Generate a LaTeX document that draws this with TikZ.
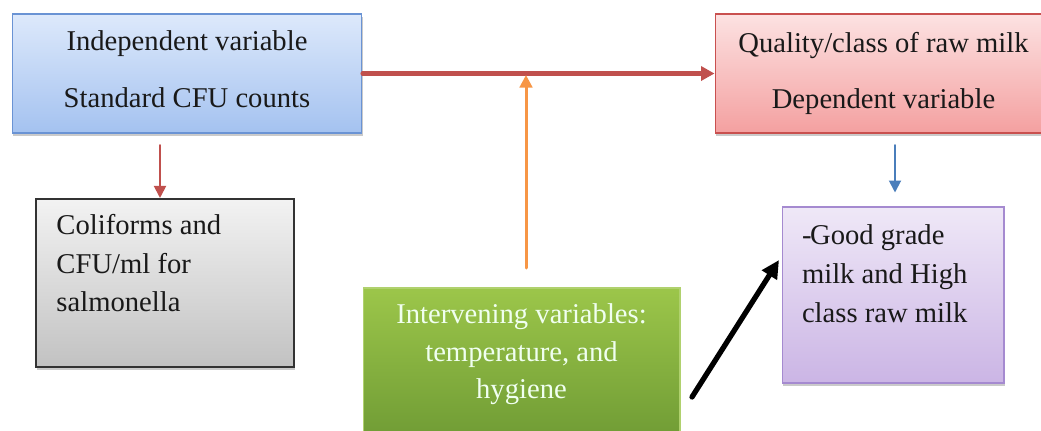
\documentclass[tikz,border=0pt]{standalone}
\usepackage{fontspec}
\setmainfont{Liberation Serif}
\usetikzlibrary{arrows.meta, positioning, shadows}

\definecolor{indepline}{HTML}{6A93D4}
\definecolor{indeptop}{HTML}{DDE9FB}
\definecolor{indepbottom}{HTML}{A4C2F0}
\definecolor{depline}{HTML}{C9504F}
\definecolor{deptop}{HTML}{FCE2E2}
\definecolor{depbottom}{HTML}{F4A0A0}
\definecolor{intertop}{HTML}{9CC64A}
\definecolor{interbottom}{HTML}{6E9A34}
\definecolor{gradeline}{HTML}{A58AD0}
\definecolor{gradetop}{HTML}{EFE8F7}
\definecolor{gradebottom}{HTML}{CBB5E5}
\definecolor{redarrow}{HTML}{C0504D}
\definecolor{orangearrow}{HTML}{F79646}
\definecolor{bluearrow}{HTML}{4A7EBB}

\begin{document}
\begin{tikzpicture}[
            x = 0.02cm, y = -0.02cm, % one unit = one pixel, y grows downwards
            > = Triangle, % arrow head style
            font = \fontsize{16.3}{22}\selectfont,
            semithick % line style
        ]

        \tikzstyle{box}=[
            rectangle,
            draw,
            inner sep = 0pt,
            drop shadow = {shadow xshift = 0.4pt, shadow yshift = -1.6pt,
                opacity = 0.35, fill = black!60}
        ]
        \tikzstyle{txt}=[inner sep = 0pt, text = black!90]
        \tikzstyle{link}=[->, line cap = round]

        \clip (0,0) rectangle (1041,430);

	% boxes
	\node[box, draw = indepline, top color = indeptop, bottom color = indepbottom,
	      minimum width = 7cm, minimum height = 2.38cm] (indep) at (187,73.5) {};
	\node[box, draw = depline, top color = deptop, bottom color = depbottom,
	      minimum width = 6.74cm, minimum height = 2.38cm] (dep) at (883.5,73.5) {};
	\node[box, draw = black!80, line width = 1.2pt, top color = black!5, bottom color = black!24,
	      minimum width = 5.16cm, minimum height = 3.36cm] (coli) at (165,283) {};
	\node[box, draw = intertop!80!white, top color = intertop, bottom color = interbottom,
	      minimum width = 6.34cm, minimum height = 3.14cm] (interv) at (521.5,366.5) {};
	\node[box, draw = gradeline, top color = gradetop, bottom color = gradebottom,
	      minimum width = 4.44cm, minimum height = 3.52cm] (grade) at (893,295) {};

	% texts
	\node[txt, align = center, font = \fontsize{16.3}{32.3}\selectfont,
	      below = 0.34cm of indep.north] (indeptext) {Independent variable\\Standard CFU counts};
	\node[txt, align = center, font = \fontsize{16.3}{32.3}\selectfont,
	      below = 0.36cm of dep.north] (deptext) {Quality/class of raw milk\\Dependent variable};
	\node[txt, align = left, below right = 0.32cm and 0.42cm of coli.north west] (colitext)
	      {Coliforms and\\CFU/ml for\\salmonella};
	\node[txt, align = center, text = white!94!green, font = \fontsize{16.3}{21.3}\selectfont,
	      below = 0.32cm of interv.north] (intervtext) {Intervening variables:\\temperature, and\\hygiene};
	\node[txt, align = left, below right = 0.36cm and 0.4cm of grade.north west] (gradetext)
	      {-\kern-0.8pt Good grade\\milk and High\\class raw milk};

	% free ends of the connectors
	\coordinate (coliin) at (160,145);
	\coordinate (gradein) at (895,145);
	\coordinate (intervout) at (526,268);
	\coordinate (hygout) at (692,397);
	\coordinate (hygin) at (779,260);

	% connectors
	\draw[link, redarrow, line width = 2.3pt, > = {Triangle[length = 0.27cm, width = 0.28cm]}]
	      (indep.east) -- (dep.west);
	\draw[link, orangearrow, line width = 1.7pt, > = {Triangle[length = 0.25cm, width = 0.25cm]}]
	      (intervout) -- ([yshift = -0.03cm] intervout |- indep.east);
	\draw[link, redarrow, line width = 1.1pt, > = {Triangle[length = 0.24cm, width = 0.24cm]}]
	      (coliin) -- (coliin |- coli.north);
	\draw[link, bluearrow, line width = 1.1pt, > = {Triangle[length = 0.24cm, width = 0.24cm]}]
	      (gradein) -- ([yshift = 0.28cm] gradein |- grade.north);
	\draw[link, black, line width = 3pt, > = {Triangle[length = 0.36cm, width = 0.34cm]}]
	      (hygout) -- (hygin);

    \end{tikzpicture}
\end{document}
